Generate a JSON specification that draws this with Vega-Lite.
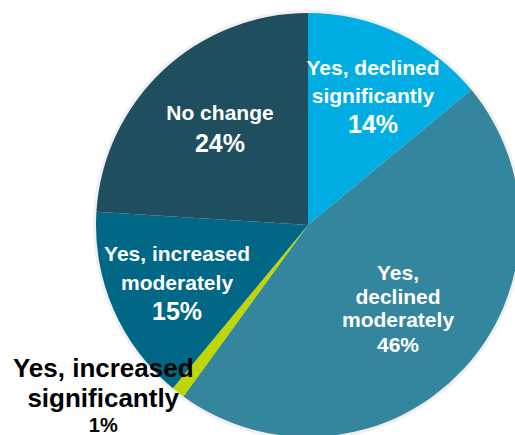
{
  "$schema": "https://vega.github.io/schema/vega-lite/v6.json",
  "width": 414,
  "height": 420,
  "autosize": {"type": "none"},
  "padding": {"left": 101, "top": 15, "right": 0, "bottom": 0},
  "background": "white",
  "config": {"view": {"stroke": null}},
  "data": {
    "values": [
      {"cat": "Yes, declined significantly", "name": "Yes, declined\nsignificantly", "pct": "14%", "value": 14, "ord": 1},
      {"cat": "Yes, declined moderately", "name": "Yes,\ndeclined\nmoderately", "pct": "46%", "value": 46, "ord": 2},
      {"cat": "Yes, increased significantly", "name": "Yes, increased\nsignificantly", "pct": "1%", "value": 1, "ord": 3},
      {"cat": "Yes, increased moderately", "name": "Yes, increased\nmoderately", "pct": "15%", "value": 15, "ord": 4},
      {"cat": "No change", "name": "No change", "pct": "24%", "value": 24, "ord": 5}
    ]
  },
  "encoding": {
    "theta": {"field": "value", "type": "quantitative", "stack": true},
    "order": {"field": "ord", "type": "quantitative"}
  },
  "layer": [
    {
      "mark": {"type": "arc", "outerRadius": 215, "color": "#000000", "opacity": 0.06},
      "encoding": {}
    },
    {
      "mark": {"type": "arc", "outerRadius": 212},
      "encoding": {
        "color": {
          "field": "cat",
          "type": "nominal",
          "scale": {
            "domain": ["Yes, declined significantly", "Yes, declined moderately", "Yes, increased significantly", "Yes, increased moderately", "No change"],
            "range": ["#00AEE4", "#34869E", "#BFD600", "#006786", "#1F4E5E"]
          },
          "legend": null
        }
      }
    },
    {
      "mark": {"type": "text", "radius": 152.7, "dy": -11.8, "lineBreak": "\n", "lineHeight": 28, "fontSize": 21, "fontWeight": "bold", "font": "Liberation Sans", "color": "white", "align": "center", "baseline": "alphabetic"},
      "encoding": {"text": {"condition": {"test": "datum.ord == 1", "field": "name"}, "value": ""}}
    },
    {
      "mark": {"type": "text", "radius": 152.7, "dy": 46.2, "fontSize": 25, "fontWeight": "bold", "font": "Liberation Sans", "color": "white", "align": "center", "baseline": "alphabetic"},
      "encoding": {"text": {"condition": {"test": "datum.ord == 1", "field": "pct"}, "value": ""}}
    },
    {
      "mark": {"type": "text", "radius": 123.5, "dy": -29.5, "lineBreak": "\n", "lineHeight": 23.5, "fontSize": 21, "fontWeight": "bold", "font": "Liberation Sans", "color": "white", "align": "center", "baseline": "alphabetic"},
      "encoding": {"text": {"condition": {"test": "datum.ord == 2", "field": "name"}, "value": ""}}
    },
    {
      "mark": {"type": "text", "radius": 123.5, "dy": 42.5, "fontSize": 21, "fontWeight": "bold", "font": "Liberation Sans", "color": "white", "align": "center", "baseline": "alphabetic"},
      "encoding": {"text": {"condition": {"test": "datum.ord == 2", "field": "pct"}, "value": ""}}
    },
    {
      "mark": {"type": "text", "radius": 215, "dx": -73, "dy": -18, "lineBreak": "\n", "lineHeight": 30, "fontSize": 26, "fontWeight": "bold", "font": "Liberation Sans", "color": "black", "align": "center", "baseline": "alphabetic"},
      "encoding": {"text": {"condition": {"test": "datum.ord == 3", "field": "name"}, "value": ""}}
    },
    {
      "mark": {"type": "text", "radius": 215, "dx": -73, "dy": 37, "fontSize": 20, "fontWeight": "bold", "font": "Liberation Sans", "color": "black", "align": "center", "baseline": "alphabetic"},
      "encoding": {"text": {"condition": {"test": "datum.ord == 3", "field": "pct"}, "value": ""}}
    },
    {
      "mark": {"type": "text", "radius": 142.7, "dy": -20.7, "lineBreak": "\n", "lineHeight": 29, "fontSize": 21, "fontWeight": "bold", "font": "Liberation Sans", "color": "white", "align": "center", "baseline": "alphabetic"},
      "encoding": {"text": {"condition": {"test": "datum.ord == 4", "field": "name"}, "value": ""}}
    },
    {
      "mark": {"type": "text", "radius": 142.7, "dy": 38.3, "fontSize": 25, "fontWeight": "bold", "font": "Liberation Sans", "color": "white", "align": "center", "baseline": "alphabetic"},
      "encoding": {"text": {"condition": {"test": "datum.ord == 4", "field": "pct"}, "value": ""}}
    },
    {
      "mark": {"type": "text", "radius": 128.6, "dy": -11.3, "lineBreak": "\n", "fontSize": 21, "fontWeight": "bold", "font": "Liberation Sans", "color": "white", "align": "center", "baseline": "alphabetic"},
      "encoding": {"text": {"condition": {"test": "datum.ord == 5", "field": "name"}, "value": ""}}
    },
    {
      "mark": {"type": "text", "radius": 128.6, "dy": 20.7, "fontSize": 25, "fontWeight": "bold", "font": "Liberation Sans", "color": "white", "align": "center", "baseline": "alphabetic"},
      "encoding": {"text": {"condition": {"test": "datum.ord == 5", "field": "pct"}, "value": ""}}
    }
  ]
}
